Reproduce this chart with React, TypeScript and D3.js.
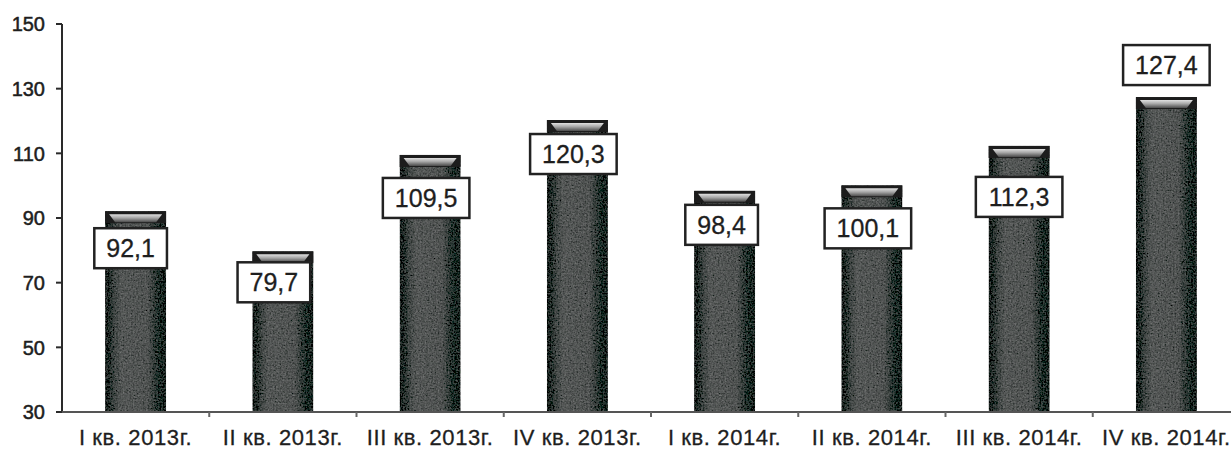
import React from "react";
import * as d3 from "d3";

const categories = [
  "I кв. 2013г.",
  "II кв. 2013г.",
  "III кв. 2013г.",
  "IV кв. 2013г.",
  "I кв. 2014г.",
  "II кв. 2014г.",
  "III кв. 2014г.",
  "IV кв. 2014г.",
];
const values = [92.1, 79.7, 109.5, 120.3, 98.4, 100.1, 112.3, 127.4];
const yTicks = [30, 50, 70, 90, 110, 130, 150];

// layout of the value boxes (pixel offsets of box centre from bar top / bar centre)
const labelDy = [37, 31, 43, 34, 34, 43, 51, -32];
const labelDx = [-5, -9, -4, -4, -3, -4, 0, 0];

const W = 1231;
const H = 452;
const FONT = "'Liberation Sans', Arial, sans-serif";

const fmt = (v: number) => d3.format(".1f")(v).replace(".", ",");

export default function App() {
  const y = d3.scaleLinear().domain([30, 150]).range([412, 24]);
  const x = d3
    .scaleBand<string>()
    .domain(categories)
    .range([62, 1240])
    .paddingInner(0.586)
    .paddingOuter(0.293);
  const bw = x.bandwidth();
  const step = x.step();
  const x0 = 62;
  const base = y(30);

  const boxFont = 25;
  const charW = (s: string) =>
    s.split("").reduce((a, c) => a + (c === "," ? 0.278 : 0.556), 0) * boxFont;

  return (
    <svg
      width={W}
      height={H}
      style={{ position: "absolute", left: 0, top: 0, background: "#fff" }}
      fontFamily={FONT}
    >
      <defs>
        <linearGradient id="barBody" x1="0" x2="1" y1="0" y2="0">
          <stop offset="0%" stopColor="#0c1a16" />
          <stop offset="6%" stopColor="#16231f" />
          <stop offset="14%" stopColor="#3a403e" />
          <stop offset="26%" stopColor="#525554" />
          <stop offset="70%" stopColor="#4e5150" />
          <stop offset="82%" stopColor="#2c3532" />
          <stop offset="90%" stopColor="#0f2620" />
          <stop offset="100%" stopColor="#0a1d18" />
        </linearGradient>
        <linearGradient id="capHi" x1="0" x2="0" y1="0" y2="1">
          <stop offset="0%" stopColor="#e0e0e0" />
          <stop offset="45%" stopColor="#a8a8a8" />
          <stop offset="100%" stopColor="#4a4a4a" />
        </linearGradient>
        <filter id="grain" x="0" y="0" width="100%" height="100%">
          <feTurbulence
            type="fractalNoise"
            baseFrequency="0.6"
            numOctaves="2"
            seed="3"
            result="noise"
          />
          <feColorMatrix
            in="noise"
            type="matrix"
            values="0.33 0.33 0.33 0 0  0.33 0.33 0.33 0 0  0.33 0.33 0.33 0 0  0 0 0 0 1"
            result="gray"
          />
          <feComposite
            in="SourceGraphic"
            in2="gray"
            operator="arithmetic"
            k1="0"
            k2="1"
            k3="0.35"
            k4="-0.17"
            result="mix"
          />
          <feComposite in="mix" in2="SourceGraphic" operator="in" />
        </filter>
      </defs>

      {/* bars */}
      {categories.map((c, i) => {
        const bx = x(c)!;
        const top = y(values[i]);
        const capH = 12;
        return (
          <g key={c}>
            <rect
              x={bx}
              y={top}
              width={bw}
              height={base - top}
              fill="url(#barBody)"
              filter="url(#grain)"
            />
            <rect x={bx} y={top} width={bw} height={capH} fill="#1c1c1c" />
            <path
              d={`M${bx + 4},${top + 3} L${bx + bw - 4},${top + 3} L${bx + bw - 10},${
                top + capH - 1
              } L${bx + 10},${top + capH - 1} Z`}
              fill="url(#capHi)"
            />
          </g>
        );
      })}

      {/* y axis */}
      <line x1={x0} x2={x0} y1={y(150)} y2={base} stroke="#2a2a2a" strokeWidth={2} />
      {yTicks.map((t) => (
        <g key={t}>
          <line x1={x0 - 6} x2={x0} y1={y(t)} y2={y(t)} stroke="#2a2a2a" strokeWidth={2} />
          <text
            x={45}
            y={y(t)}
            dy="0.36em"
            textAnchor="end"
            fontSize={20}
            fill="#1e1e1e"
            stroke="#1e1e1e"
            strokeWidth={0.5}
          >
            {t}
          </text>
        </g>
      ))}

      {/* x axis */}
      <line x1={x0} x2={W} y1={base} y2={base} stroke="#555" strokeWidth={2} />
      {d3.range(1, categories.length).map((k) => (
        <line
          key={k}
          x1={x0 + k * step}
          x2={x0 + k * step}
          y1={base}
          y2={base + 5}
          stroke="#666"
          strokeWidth={2}
        />
      ))}
      {categories.map((c) => (
        <text
          key={c}
          x={x(c)! + bw / 2}
          y={445}
          textAnchor="middle"
          fontSize={22}
          letterSpacing={0.6}
          fill="#1e1e1e"
          stroke="#1e1e1e"
          strokeWidth={0.3}
        >
          {c}
        </text>
      ))}

      {/* value boxes */}
      {categories.map((c, i) => {
        const s = fmt(values[i]);
        const cx = x(c)! + bw / 2 + labelDx[i];
        const cy = y(values[i]) + labelDy[i];
        const bwid = charW(s) + 24;
        const bh = 40;
        return (
          <g key={"l" + c}>
            <rect
              x={cx - bwid / 2}
              y={cy - bh / 2}
              width={bwid}
              height={bh}
              fill="#fff"
              stroke="#222"
              strokeWidth={2.5}
            />
            <text
              x={cx}
              y={cy}
              dy="0.36em"
              textAnchor="middle"
              fontSize={boxFont}
              fill="#1e1e1e"
              stroke="#1e1e1e"
              strokeWidth={0.3}
            >
              {s}
            </text>
          </g>
        );
      })}
    </svg>
  );
}
